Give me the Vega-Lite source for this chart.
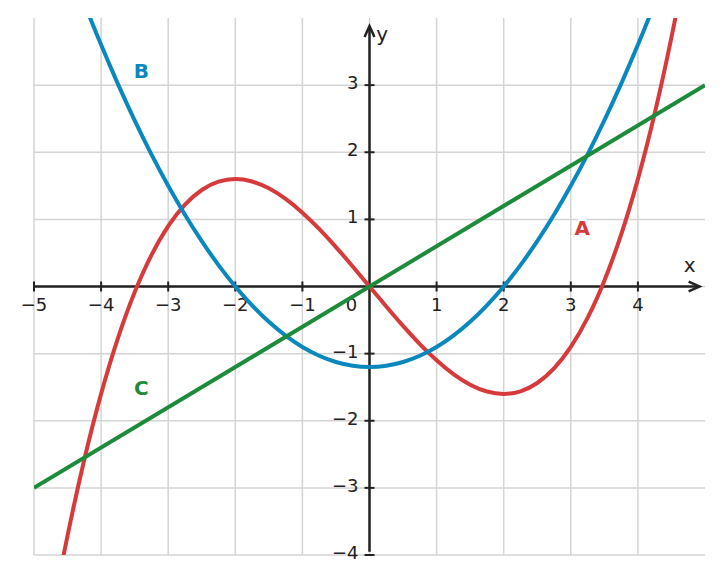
{
  "$schema": "https://vega.github.io/schema/vega-lite/v6.json",
  "width": 671,
  "height": 537,
  "autosize": "none",
  "padding": {"left": 34, "top": 18, "right": 19, "bottom": 29},
  "background": "white",
  "config": {"view": {"stroke": null}},
  "datasets": {
    "vgrid": [{"x": -5}, {"x": -4}, {"x": -3}, {"x": -2}, {"x": -1}, {"x": 0}, {"x": 1}, {"x": 2}, {"x": 3}, {"x": 4}],
    "hgrid": [{"y": -4}, {"y": -3}, {"y": -2}, {"y": -1}, {"y": 0}, {"y": 1}, {"y": 2}, {"y": 3}],
    "xticks": [{"v": -5, "t": "−5"}, {"v": -4, "t": "−4"}, {"v": -3, "t": "−3"}, {"v": -2, "t": "−2"}, {"v": -1, "t": "−1"}, {"v": 1, "t": "1"}, {"v": 2, "t": "2"}, {"v": 3, "t": "3"}, {"v": 4, "t": "4"}],
    "yticks": [{"v": -4, "t": "−4"}, {"v": -3, "t": "−3"}, {"v": -2, "t": "−2"}, {"v": -1, "t": "−1"}, {"v": 1, "t": "1"}, {"v": 2, "t": "2"}, {"v": 3, "t": "3"}],
    "curveA": [
      {"x": -5, "y": -6.5}, {"x": -4.75, "y": -5.017}, {"x": -4.5, "y": -3.7125}, {"x": -4.25, "y": -2.577},
      {"x": -4, "y": -1.6}, {"x": -3.75, "y": -0.773}, {"x": -3.5, "y": -0.0875}, {"x": -3.25, "y": 0.467},
      {"x": -3, "y": 0.9}, {"x": -2.75, "y": 1.22}, {"x": -2.5, "y": 1.4375}, {"x": -2.25, "y": 1.561},
      {"x": -2, "y": 1.6}, {"x": -1.75, "y": 1.564}, {"x": -1.5, "y": 1.4625}, {"x": -1.25, "y": 1.305},
      {"x": -1, "y": 1.1}, {"x": -0.75, "y": 0.858}, {"x": -0.5, "y": 0.5875}, {"x": -0.25, "y": 0.298},
      {"x": 0, "y": 0},
      {"x": 0.25, "y": -0.298}, {"x": 0.5, "y": -0.5875}, {"x": 0.75, "y": -0.858}, {"x": 1, "y": -1.1},
      {"x": 1.25, "y": -1.305}, {"x": 1.5, "y": -1.4625}, {"x": 1.75, "y": -1.564}, {"x": 2, "y": -1.6},
      {"x": 2.25, "y": -1.561}, {"x": 2.5, "y": -1.4375}, {"x": 2.75, "y": -1.22}, {"x": 3, "y": -0.9},
      {"x": 3.25, "y": -0.467}, {"x": 3.5, "y": 0.0875}, {"x": 3.75, "y": 0.773}, {"x": 4, "y": 1.6},
      {"x": 4.25, "y": 2.577}, {"x": 4.5, "y": 3.7125}, {"x": 4.75, "y": 5.017}, {"x": 5, "y": 6.5}
    ],
    "curveB": [
      {"x": -5, "y": 6.3}, {"x": -4.75, "y": 5.569}, {"x": -4.5, "y": 4.875}, {"x": -4.25, "y": 4.219},
      {"x": -4, "y": 3.6}, {"x": -3.75, "y": 3.019}, {"x": -3.5, "y": 2.475}, {"x": -3.25, "y": 1.969},
      {"x": -3, "y": 1.5}, {"x": -2.75, "y": 1.069}, {"x": -2.5, "y": 0.675}, {"x": -2.25, "y": 0.319},
      {"x": -2, "y": 0}, {"x": -1.75, "y": -0.281}, {"x": -1.5, "y": -0.525}, {"x": -1.25, "y": -0.731},
      {"x": -1, "y": -0.9}, {"x": -0.75, "y": -1.031}, {"x": -0.5, "y": -1.125}, {"x": -0.25, "y": -1.181},
      {"x": 0, "y": -1.2},
      {"x": 0.25, "y": -1.181}, {"x": 0.5, "y": -1.125}, {"x": 0.75, "y": -1.031}, {"x": 1, "y": -0.9},
      {"x": 1.25, "y": -0.731}, {"x": 1.5, "y": -0.525}, {"x": 1.75, "y": -0.281}, {"x": 2, "y": 0},
      {"x": 2.25, "y": 0.319}, {"x": 2.5, "y": 0.675}, {"x": 2.75, "y": 1.069}, {"x": 3, "y": 1.5},
      {"x": 3.25, "y": 1.969}, {"x": 3.5, "y": 2.475}, {"x": 3.75, "y": 3.019}, {"x": 4, "y": 3.6},
      {"x": 4.25, "y": 4.219}, {"x": 4.5, "y": 4.875}, {"x": 4.75, "y": 5.569}, {"x": 5, "y": 6.3}
    ],
    "curveC": [{"x": -5, "y": -3}, {"x": 5, "y": 3}],
    "labels": [
      {"x": 3.17, "y": 0.86, "t": "A", "c": "A"},
      {"x": -3.4, "y": 3.19, "t": "B", "c": "B"},
      {"x": -3.4, "y": -1.52, "t": "C", "c": "C"}
    ],
    "axisX": [{"x": -5, "x2": 4.92, "y": 0}],
    "axisY": [{"x": 0, "y": -3.95, "y2": 3.88}],
    "arrowUp": [{"x": 0, "y": 3.88}],
    "arrowRight": [{"x": 4.92, "y": 0}],
    "axisNames": [{"x": 4.77, "y": 0.3, "t": "x"}, {"x": 0.19, "y": 3.74, "t": "y"}],
    "origin": [{"x": 0, "y": 0, "t": "0"}]
  },
  "encoding": {
    "x": {"type": "quantitative", "scale": {"domain": [-5, 5], "nice": false, "zero": false}, "axis": null},
    "y": {"type": "quantitative", "scale": {"domain": [-4, 4], "nice": false, "zero": false}, "axis": null}
  },
  "layer": [
    {
      "data": {"name": "vgrid"},
      "mark": {"type": "rule", "stroke": "#d4d4d4", "strokeWidth": 1.5},
      "encoding": {"x": {"field": "x"}, "y": {"datum": -4}, "y2": {"datum": 4}}
    },
    {
      "data": {"name": "hgrid"},
      "mark": {"type": "rule", "stroke": "#d4d4d4", "strokeWidth": 1.5},
      "encoding": {"y": {"field": "y"}, "x": {"datum": -5}, "x2": {"datum": 5}}
    },
    {
      "data": {"name": "axisX"},
      "mark": {"type": "rule", "stroke": "#222222", "strokeWidth": 2.5},
      "encoding": {"x": {"field": "x"}, "x2": {"field": "x2"}, "y": {"field": "y"}}
    },
    {
      "data": {"name": "axisY"},
      "mark": {"type": "rule", "stroke": "#222222", "strokeWidth": 2.5},
      "encoding": {"x": {"field": "x"}, "y": {"field": "y"}, "y2": {"field": "y2"}}
    },
    {
      "data": {"name": "arrowUp"},
      "mark": {"type": "point", "shape": "M-0.45,1L0,0L0.45,1", "size": 484, "filled": false, "stroke": "#222222", "strokeWidth": 2.5, "opacity": 1},
      "encoding": {"x": {"field": "x"}, "y": {"field": "y"}}
    },
    {
      "data": {"name": "arrowRight"},
      "mark": {"type": "point", "shape": "M-1,-0.45L0,0L-1,0.45", "size": 484, "filled": false, "stroke": "#222222", "strokeWidth": 2.5, "opacity": 1},
      "encoding": {"x": {"field": "x"}, "y": {"field": "y"}}
    },
    {
      "data": {"name": "xticks"},
      "mark": {"type": "point", "shape": "M0,-1L0,1", "size": 100, "filled": false, "stroke": "#222222", "strokeWidth": 2, "opacity": 1},
      "encoding": {"x": {"field": "v"}, "y": {"datum": 0}}
    },
    {
      "data": {"name": "yticks"},
      "mark": {"type": "point", "shape": "M-1,0L1,0", "size": 100, "filled": false, "stroke": "#222222", "strokeWidth": 2, "opacity": 1},
      "encoding": {"y": {"field": "v"}, "x": {"datum": 0}}
    },
    {
      "data": {"name": "xticks"},
      "mark": {"type": "text", "font": "DejaVu Sans", "fontSize": 18, "fill": "#222222", "align": "center", "baseline": "middle", "dy": 19},
      "encoding": {"x": {"field": "v"}, "y": {"datum": 0}, "text": {"field": "t"}}
    },
    {
      "data": {"name": "yticks"},
      "mark": {"type": "text", "font": "DejaVu Sans", "fontSize": 18, "fill": "#222222", "align": "right", "baseline": "middle", "dx": -11, "dy": -1},
      "encoding": {"y": {"field": "v"}, "x": {"datum": 0}, "text": {"field": "t"}}
    },
    {
      "data": {"name": "origin"},
      "mark": {"type": "text", "font": "DejaVu Sans", "fontSize": 18, "fill": "#222222", "align": "center", "baseline": "middle", "dx": -18, "dy": 19},
      "encoding": {"x": {"field": "x"}, "y": {"field": "y"}, "text": {"field": "t"}}
    },
    {
      "data": {"name": "axisNames"},
      "mark": {"type": "text", "font": "DejaVu Sans", "fontSize": 20, "fill": "#222222", "align": "center", "baseline": "middle"},
      "encoding": {"x": {"field": "x"}, "y": {"field": "y"}, "text": {"field": "t"}}
    },
    {
      "data": {"name": "curveA"},
      "mark": {"type": "line", "clip": true, "interpolate": "natural", "stroke": "#d63a3a", "strokeWidth": 4},
      "encoding": {"x": {"field": "x"}, "y": {"field": "y"}}
    },
    {
      "data": {"name": "curveB"},
      "mark": {"type": "line", "clip": true, "interpolate": "natural", "stroke": "#0a87bd", "strokeWidth": 4},
      "encoding": {"x": {"field": "x"}, "y": {"field": "y"}}
    },
    {
      "data": {"name": "curveC"},
      "mark": {"type": "line", "clip": true, "stroke": "#1d8c3a", "strokeWidth": 4},
      "encoding": {"x": {"field": "x"}, "y": {"field": "y"}}
    },
    {
      "data": {"name": "labels"},
      "mark": {"type": "text", "font": "DejaVu Sans", "fontSize": 20, "fontWeight": "bold", "fill": "white", "stroke": "white", "strokeWidth": 5, "align": "center", "baseline": "middle"},
      "encoding": {"x": {"field": "x"}, "y": {"field": "y"}, "text": {"field": "t"}}
    },
    {
      "data": {"name": "labels"},
      "mark": {"type": "text", "font": "DejaVu Sans", "fontSize": 20, "fontWeight": "bold", "align": "center", "baseline": "middle"},
      "encoding": {
        "x": {"field": "x"}, "y": {"field": "y"}, "text": {"field": "t"},
        "color": {"field": "c", "type": "nominal", "scale": {"domain": ["A", "B", "C"], "range": ["#d63a3a", "#0a87bd", "#1d8c3a"]}, "legend": null}
      }
    }
  ]
}
